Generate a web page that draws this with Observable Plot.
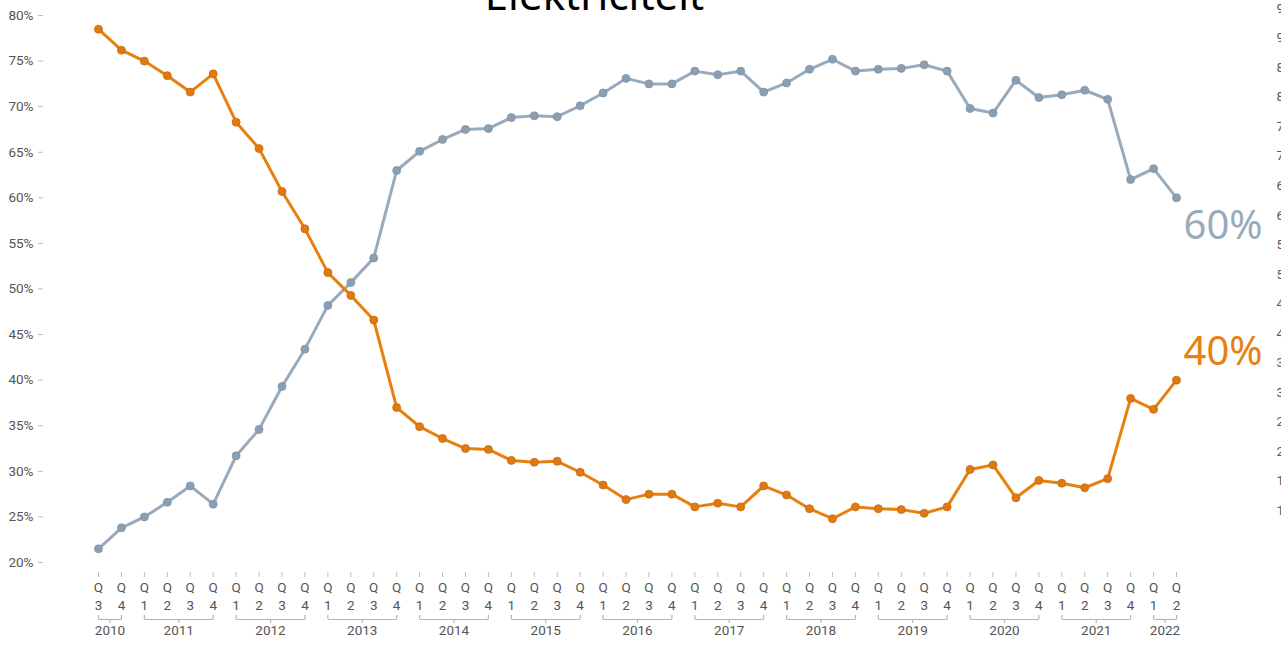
<!DOCTYPE html>
<html>
<head>
<meta charset="utf-8">
<script src="https://cdn.jsdelivr.net/npm/d3@7"></script>
<script src="https://cdn.jsdelivr.net/npm/@observablehq/plot@0.6"></script>
<style>
  html, body { margin: 0; padding: 0; background: white; overflow: hidden; }
  #wrap { position: relative; width: 1281px; height: 649px; overflow: hidden; background: white; }
  #wrap > svg { position: absolute; left: 0; top: 0; margin: 0; max-width: none !important; }
  #title { position: absolute; left: 0; width: 1189px; text-align: center; top: -27px;
           font-family: "Noto Sans", sans-serif; font-size: 42px; line-height: 1; color: #000; }
</style>
</head>
<body>
<div id="wrap"><div id="title">Elektriciteit</div></div>
<script>
// ---- data ----
const quarters = [
  "2010 Q3","2010 Q4",
  "2011 Q1","2011 Q2","2011 Q3","2011 Q4",
  "2012 Q1","2012 Q2","2012 Q3","2012 Q4",
  "2013 Q1","2013 Q2","2013 Q3","2013 Q4",
  "2014 Q1","2014 Q2","2014 Q3","2014 Q4",
  "2015 Q1","2015 Q2","2015 Q3","2015 Q4",
  "2016 Q1","2016 Q2","2016 Q3","2016 Q4",
  "2017 Q1","2017 Q2","2017 Q3","2017 Q4",
  "2018 Q1","2018 Q2","2018 Q3","2018 Q4",
  "2019 Q1","2019 Q2","2019 Q3","2019 Q4",
  "2020 Q1","2020 Q2","2020 Q3","2020 Q4",
  "2021 Q1","2021 Q2","2021 Q3","2021 Q4",
  "2022 Q1","2022 Q2"
];
const orangeValues = [
  78.5, 76.2,
  75.0, 73.4, 71.6, 73.6,
  68.3, 65.4, 60.7, 56.6,
  51.8, 49.3, 46.6, 37.0,
  34.9, 33.6, 32.5, 32.4,
  31.2, 31.0, 31.1, 29.9,
  28.5, 26.9, 27.5, 27.5,
  26.1, 26.5, 26.1, 28.4,
  27.4, 25.9, 24.8, 26.1,
  25.9, 25.8, 25.4, 26.1,
  30.2, 30.7, 27.1, 29.0,
  28.7, 28.2, 29.2, 38.0,
  36.8, 40.0
];
const grayValues = [
  21.5, 23.8,
  25.0, 26.6, 28.4, 26.4,
  31.7, 34.6, 39.3, 43.4,
  48.2, 50.7, 53.4, 63.0,
  65.1, 66.4, 67.5, 67.6,
  68.8, 69.0, 68.9, 70.1,
  71.5, 73.1, 72.5, 72.5,
  73.9, 73.5, 73.9, 71.6,
  72.6, 74.1, 75.2, 73.9,
  74.1, 74.2, 74.6, 73.9,
  69.8, 69.3, 72.9, 71.0,
  71.3, 71.8, 70.8, 62.0,
  63.2, 60.0
];
const yTicks = [20, 25, 30, 35, 40, 45, 50, 55, 60, 65, 70, 75, 80];
const rightTicks = [10, 15, 20, 25, 30, 35, 40, 45, 50, 55, 60, 65, 70, 75, 80, 85, 90, 95];
const yDomain = [20, 80];

// ---- derived tables ----
const rows = quarters.map((q, i) => ({
  i, year: +q.slice(0, 4), q: q.slice(6), orange: orangeValues[i], gray: grayValues[i]
}));
const yearGroups = d3.groups(rows, d => d.year).map(([year, rs]) => ({
  year, start: rs[0].i, end: rs[rs.length - 1].i
}));
const yearEnds = yearGroups.flatMap(g => [g.start, g.end]);
const last = rows[rows.length - 1];

const ORANGE = "#e8800f";
const ORANGE_DOT = "#df7a12";
const GRAY = "#98abbc";
const GRAY_DOT = "#8c9fb1";
const TEXT = "#555";
const TICK = "#bdbdbd";
const BRACKET = "#a7b9c9";

const main = Plot.plot({
  width: 1281, height: 649,
  marginLeft: 43, marginRight: 0, marginTop: 15, marginBottom: 77,
  x: {type: "linear", domain: [0, quarters.length - 1], range: [98, 1176], axis: null},
  y: {domain: yDomain, range: [562, 15], axis: null},
  style: {fontFamily: "Roboto, sans-serif", fontSize: "13.5px", background: "white", color: TEXT},
  marks: [
    Plot.axisY(yTicks, {anchor: "left", tickSize: 5, tickPadding: 5, tickFormat: d => d + "%",
      stroke: TICK, fill: TEXT, label: null}),
    Plot.axisX(rows.map(d => d.i), {anchor: "bottom", tickSize: 5, tickFormat: () => "",
      stroke: TICK, label: null}),
    Plot.text(rows, {x: "i", text: () => "Q", frameAnchor: "bottom", dy: 19, fill: TEXT}),
    Plot.text(rows, {x: "i", text: "q", frameAnchor: "bottom", dy: 37, fill: TEXT}),
    Plot.link(yearGroups, {x1: "start", x2: "end", y1: () => yDomain[0], y2: () => yDomain[0],
      dy: 57, stroke: BRACKET, strokeWidth: 1.2}),
    Plot.ruleX(yearEnds, {x: d => d, y1: () => yDomain[0], y2: () => yDomain[0], insetBottom: 4,
      dy: 57, stroke: BRACKET, strokeWidth: 1.2}),
    Plot.ruleX(yearGroups, {x: d => (d.start + d.end) / 2, y1: () => yDomain[0], y2: () => yDomain[0],
      insetTop: 4, dy: 57, stroke: BRACKET, strokeWidth: 1.2}),
    Plot.text(yearGroups, {x: d => (d.start + d.end) / 2, text: d => String(d.year),
      frameAnchor: "bottom", dy: 62, fill: TEXT}),
    Plot.line(rows, {x: "i", y: "gray", stroke: GRAY, strokeWidth: 3}),
    Plot.dot(rows, {x: "i", y: "gray", r: 4, fill: GRAY_DOT, stroke: "#7f93a6", strokeWidth: 0.8}),
    Plot.line(rows, {x: "i", y: "orange", stroke: ORANGE, strokeWidth: 3}),
    Plot.dot(rows, {x: "i", y: "orange", r: 4, fill: ORANGE_DOT, stroke: "#c96a0c", strokeWidth: 0.8}),
    Plot.text([last], {x: "i", y: "gray", text: d => Math.round(d.gray) + "%", textAnchor: "start",
      dx: 7, dy: 28, fontSize: 40, fontFamily: "Noto Sans, sans-serif", fill: GRAY}),
    Plot.text([last], {x: "i", y: "orange", text: d => Math.round(d.orange) + "%", textAnchor: "start",
      dx: 7, dy: -28, fontSize: 40, fontFamily: "Noto Sans, sans-serif", fill: ORANGE})
  ]
});

const right = Plot.plot({
  width: 1320, height: 649,
  marginLeft: 0, marginRight: 44, marginTop: 8, marginBottom: 139,
  x: {domain: [0, 1], axis: null},
  y: {domain: [10, 95], range: [510, 8], axis: null},
  style: {fontFamily: "Roboto, sans-serif", fontSize: "13.5px", background: "transparent", color: TEXT, maxWidth: "none"},
  marks: [
    Plot.axisY(rightTicks, {anchor: "right", tickSize: 0, tickPadding: 0, tickFormat: d => d + "%",
      fill: TEXT, label: null})
  ]
});
right.style.maxWidth = "none";
right.style.width = "1320px";

const wrap = document.getElementById("wrap");
wrap.insertBefore(main, wrap.firstChild);
wrap.insertBefore(right, main.nextSibling);
</script>
</body>
</html>
